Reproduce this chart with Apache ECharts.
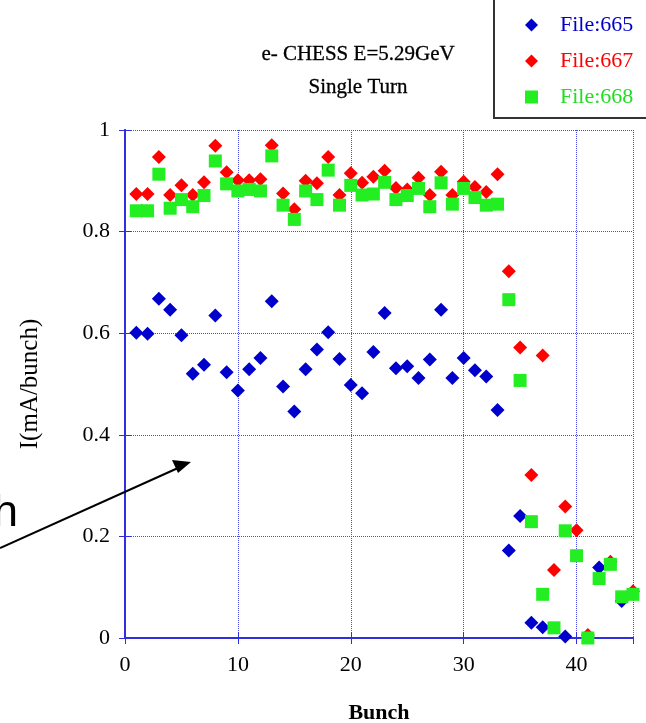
<!DOCTYPE html>
<html>
<head>
<meta charset="utf-8">
<script src="https://cdn.jsdelivr.net/npm/echarts@6/dist/echarts.min.js"></script>
<style>html,body{margin:0;padding:0;background:#fff;}#c{width:646px;height:723px;}</style>
</head>
<body>
<div id="c"></div>
<script>
var xTicks = [0, 10, 20, 30, 40];
var yTicks = [0, 0.2, 0.4, 0.6, 0.8, 1];

var bunch665 = [1,2,3,4,5,6,7,8,9,10,11,12,13,14,15,16,17,18,19,20,21,22,23,24,25,26,27,28,29,30,31,32,33,34,35,36,37,39,42,44];
var file665 = [0.601,0.599,0.668,0.646,0.596,0.520,0.538,0.635,0.523,0.487,0.529,0.551,0.663,0.495,0.446,0.529,0.568,0.602,0.549,0.498,0.482,0.563,0.640,0.531,0.535,0.512,0.548,0.646,0.512,0.551,0.527,0.515,0.449,0.172,0.240,0.030,0.021,0.003,0.139,0.073];

var bunch667 = [1,2,3,4,5,6,7,8,9,10,11,12,13,14,15,16,17,18,19,20,21,22,23,24,25,26,27,28,29,30,31,32,33,34,35,36,37,38,39,40,41,43,45];
var file667 = [0.874,0.874,0.947,0.872,0.891,0.872,0.897,0.969,0.917,0.901,0.901,0.903,0.970,0.875,0.844,0.900,0.895,0.947,0.872,0.915,0.896,0.908,0.920,0.886,0.883,0.906,0.872,0.918,0.872,0.898,0.888,0.878,0.913,0.722,0.572,0.321,0.556,0.134,0.259,0.212,0.006,0.150,0.092];

var bunch668 = [1,2,3,4,5,6,7,8,9,10,11,12,13,14,15,16,17,18,19,20,21,22,23,24,25,26,27,28,29,30,31,32,33,34,35,36,37,38,39,40,41,42,43,44,45];
var file668 = [0.841,0.841,0.913,0.846,0.863,0.849,0.871,0.939,0.894,0.880,0.883,0.880,0.949,0.852,0.824,0.880,0.863,0.921,0.852,0.891,0.872,0.874,0.897,0.863,0.871,0.885,0.849,0.896,0.854,0.885,0.867,0.852,0.854,0.666,0.507,0.229,0.086,0.020,0.211,0.162,0.000,0.117,0.145,0.081,0.086];

var seriesNames = ['File:665', 'File:667', 'File:668'];
var seriesColors = ['#0000cc', '#ff0000', '#22ee22'];

function pairs(xs, ys) { return xs.map(function (x, i) { return [x, ys[i]]; }); }

var SERIF = '"Liberation Serif","Times New Roman",serif';
var AXIS_BLUE = '#2f2fe0';
var GRID_BLUE = '#4a4ae8';

var chart = echarts.init(document.getElementById('c'), null, { renderer: 'canvas' });

var option = {
  animation: false,
  backgroundColor: '#fff',
  title: {
    text: 'e- CHESS E=5.29GeV\nSingle Turn',
    left: 353, top: 33, textAlign: 'center',
    textStyle: { fontFamily: SERIF, fontSize: 21, fontWeight: 'normal', color: '#000', lineHeight: 33,
      textBorderColor: '#000', textBorderWidth: 0.3 }
  },
  legend: {
    orient: 'vertical',
    left: 520, top: 9,
    itemWidth: 13, itemHeight: 13, itemGap: 14,
    selectedMode: false,
    textStyle: { fontFamily: SERIF, fontSize: 22, padding: [0, 0, 0, 17] },
    data: [
      { name: seriesNames[0], icon: 'diamond', textStyle: { color: seriesColors[0] } },
      { name: seriesNames[1], icon: 'diamond', textStyle: { color: seriesColors[1] } },
      { name: seriesNames[2], icon: 'rect', textStyle: { color: '#22dd22' } }
    ]
  },
  grid: { left: 125, right: 13, top: 130, bottom: 85, show: false, outerBoundsMode: 'none', containLabel: false },
  xAxis: [{
    type: 'value', min: 0, max: 45, interval: 10,
    name: 'Bunch', nameLocation: 'middle', nameGap: 64,
    nameTextStyle: { fontFamily: SERIF, fontSize: 22, fontWeight: 'bold', color: '#000' },
    axisLine: { show: true, lineStyle: { color: AXIS_BLUE, width: 2 } },
    axisTick: { show: true, inside: true, length: 6, lineStyle: { color: AXIS_BLUE, width: 1 } },
    axisLabel: { fontFamily: SERIF, fontSize: 22, color: '#000', margin: 16, showMaxLabel: false },
    splitLine: { show: true, lineStyle: { color: GRID_BLUE, type: [1, 1], width: 1 } }
  }, {
    type: 'value', min: 0, max: 45, interval: 10, position: 'top',
    axisLine: { show: true, lineStyle: { color: AXIS_BLUE, width: 2 } },
    axisTick: { show: true, inside: true, length: 6, lineStyle: { color: AXIS_BLUE, width: 1 } },
    axisLabel: { show: false }, splitLine: { show: false }
  }],
  yAxis: [{
    type: 'value', min: 0, max: 1, interval: 0.2,
    name: 'I(mA/bunch)', nameLocation: 'middle', nameGap: 82, nameRotate: 90,
    nameTextStyle: { fontFamily: SERIF, fontSize: 25, color: '#000' },
    axisLine: { show: true, lineStyle: { color: AXIS_BLUE, width: 2 } },
    axisTick: { show: true, inside: true, length: 6, lineStyle: { color: AXIS_BLUE, width: 1 } },
    axisLabel: { fontFamily: SERIF, fontSize: 22, color: '#000', margin: 15,
      formatter: function (v) { return String(Math.round(v * 10) / 10); } },
    splitLine: { show: true, lineStyle: { color: GRID_BLUE, type: [1, 1], width: 1 } }
  }, {
    type: 'value', min: 0, max: 1, interval: 0.2, position: 'right',
    axisLine: { show: true, lineStyle: { color: AXIS_BLUE, width: 2 } },
    axisTick: { show: true, inside: true, length: 6, lineStyle: { color: AXIS_BLUE, width: 1 } },
    axisLabel: { show: false }, splitLine: { show: false }
  }],
  series: [
    { name: seriesNames[0], type: 'scatter', symbol: 'diamond', symbolSize: 14,
      itemStyle: { color: seriesColors[0], opacity: 1 }, data: pairs(bunch665, file665), z: 3 },
    { name: seriesNames[1], type: 'scatter', symbol: 'diamond', symbolSize: 14,
      itemStyle: { color: seriesColors[1], opacity: 1 }, data: pairs(bunch667, file667), z: 4 },
    { name: seriesNames[2], type: 'scatter', symbol: 'rect', symbolSize: 13,
      itemStyle: { color: seriesColors[2], opacity: 1 }, data: pairs(bunch668, file668), z: 5 }
  ],
  graphic: [
    { type: 'rect', shape: { x: 494, y: -3, width: 170, height: 121 },
      style: { fill: 'none', stroke: '#333', lineWidth: 2 }, z: 100 },
    { type: 'text', style: { text: 'h', x: 18, y: 536, align: 'right', verticalAlign: 'bottom',
      font: '45px "Liberation Sans", Arial, sans-serif', fill: '#000' }, z: 100 },
    { type: 'line', shape: { x1: 0, y1: 548, x2: 178, y2: 468 },
      style: { stroke: '#000', lineWidth: 2 }, z: 100 },
    { type: 'polygon', shape: { points: [[191, 462], [172, 460], [178, 473]] },
      style: { fill: '#000' }, z: 100 }
  ]
};
chart.setOption(option);
</script>
</body>
</html>
